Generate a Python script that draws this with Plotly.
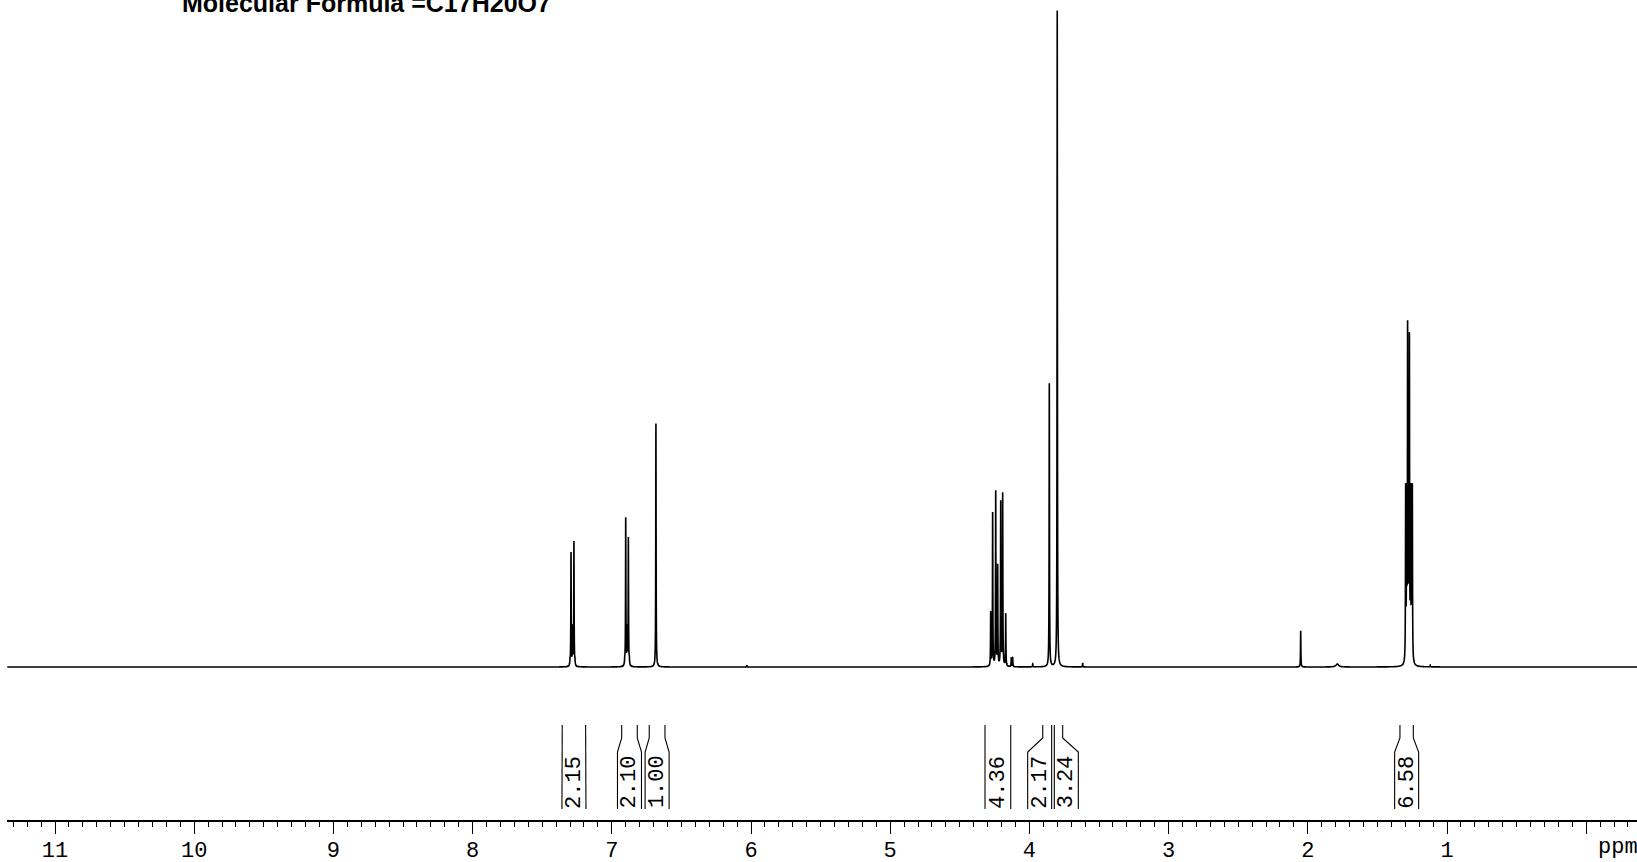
import numpy as np
import plotly.graph_objects as go

# ---------------- data ----------------
title_text = "Molecular Formula =C17H20O7"

# peak positions (ppm) and observed line heights (% of tallest line)
peak_ppm = [7.300, 7.293, 7.282, 7.272, 7.265,
            6.907, 6.900, 6.890, 6.881, 6.874,
            6.683, 6.030,
            4.278, 4.264, 4.242, 4.228, 4.206, 4.192, 4.170, 4.130, 4.120,
            3.976, 3.857, 3.800, 3.617,
            2.051, 1.788,
            1.297, 1.290, 1.283, 1.276, 1.270, 1.262, 1.255, 1.249,
            1.120]
peak_height = [1.5, 17.5, 6.5, 19.2, 1.5,
               1.8, 22.8, 6.5, 19.8, 1.8,
               37.1, 0.2,
               8.5, 23.6, 26.9, 15.7, 25.4, 26.6, 8.2, 1.5, 1.5,
               0.5, 43.2, 100.0, 0.6,
               5.5, 0.45,
               28.0, 28.0, 52.8, 28.0, 51.0, 28.0, 28.0, 28.0,
               0.3]
peak_hwhm = [0.0015] * 26 + [0.012] + [0.0015] * 9

# integral regions (ppm) and values
integral_from = [7.356, 6.929, 6.731, 4.319, 3.904, 3.821, 1.338]
integral_to = [7.188, 6.817, 6.618, 4.134, 3.840, 3.761, 1.242]
integral_values = ["2.15", "2.10", "1.00", "4.36", "2.17", "3.24", "6.58"]

tick_values = list(range(0, 12))
tick_labels = [""] + [str(i) for i in range(1, 12)]
axis_unit = "ppm"

# ---------------- layout constants (page pixels) ----------------
W, H = 1637, 862
PX0, PX_PER_PPM = 1586.2, 139.2   # page x of 0 ppm, pixels per ppm
AXIS_Y = 820                      # page y of the x-axis line
ML, MR, MT = 7, 0, 0
MB = H - AXIS_Y
x_range = [(PX0 - ML) / PX_PER_PPM, (PX0 - W) / PX_PER_PPM]
plot_h = H - MT - MB
baseline_y = 667           # page y of the baseline
top_y = 10.4               # page y of the tallest line
unit_px = (baseline_y - top_y) / 100.0
y_range = [-(AXIS_Y - baseline_y) / unit_px, (baseline_y - MT) / unit_px]
ppm_per_px = 1.0 / PX_PER_PPM


def py(page_y):
    return (AXIS_Y - page_y) / plot_h


def px(page_x):
    return (page_x - ML) / (W - ML - MR)


# ---------------- spectrum curve ----------------
pp = np.array(peak_ppm)
ww = np.array(peak_hwhm)
A = 1.0 / (1.0 + ((pp[:, None] - pp[None, :]) / ww[None, :]) ** 2)
amp = np.linalg.solve(A, np.array(peak_height))   # amplitudes so that sums hit observed heights

grid = [np.arange(x_range[1], x_range[0], 0.002), pp]
for p, w in zip(peak_ppm, peak_hwhm):
    span = max(0.03, 20 * w)
    grid.append(np.arange(p - span, p + span, w / 8))
x = np.unique(np.concatenate(grid))
x = x[(x >= x_range[1]) & (x <= x_range[0])]
y = np.zeros_like(x)
for p, h, w in zip(peak_ppm, amp, peak_hwhm):
    y += h / (1.0 + ((x - p) / w) ** 2)

fig = go.Figure()
fig.add_trace(go.Scatter(x=x, y=y, mode="lines",
                         line=dict(color="black", width=1.6, simplify=False),
                         hoverinfo="skip", showlegend=False))

# ---------------- integrals ----------------
min_w = 24 * ppm_per_px
boxes = []
for a, b in zip(integral_from, integral_to):
    if a - b < min_w:
        c = (a + b) / 2
        boxes.append([c + min_w / 2, c - min_w / 2])
    else:
        boxes.append([a, b])
for i in range(len(boxes) - 1):
    if boxes[i][1] < boxes[i + 1][0]:  # overlap (ppm decreasing to the right)
        boxes[i] = [integral_to[i] + min_w, integral_to[i]]
        boxes[i + 1] = [integral_from[i + 1], integral_from[i + 1] - min_w]

y_top, y_neck, y_sl, y_bot = py(725), py(738), py(752), py(809)
for (a, b), (ba, bb), lab in zip(zip(integral_from, integral_to), boxes, integral_values):
    for tx, bx in ((a, ba), (b, bb)):
        fig.add_trace(go.Scatter(x=[tx, tx, bx, bx], y=[y_top, y_neck, y_sl, y_bot],
                                 mode="lines", yaxis="y2",
                                 line=dict(color="black", width=1.1),
                                 hoverinfo="skip", showlegend=False))
    fig.add_annotation(x=(ba + bb) / 2, y=py(782), xref="x", yref="paper",
                       text=lab, textangle=-90, showarrow=False,
                       font=dict(family="Courier New, Liberation Mono, monospace",
                                 size=22, color="black"),
                       xanchor="center", yanchor="middle")

# ---------------- title and unit ----------------
fig.add_annotation(x=px(180), y=py(19), xref="paper", yref="paper",
                   text="<b>" + title_text + "</b>", showarrow=False,
                   font=dict(family="Arial, Liberation Sans, sans-serif", size=25, color="black"),
                   xanchor="left", yanchor="bottom")
fig.add_annotation(x=(PX0 - 1596) / PX_PER_PPM, y=py(847), xref="x", yref="paper", text=axis_unit,
                   showarrow=False,
                   font=dict(family="Courier New, Liberation Mono, monospace", size=22, color="black"),
                   xanchor="left", yanchor="middle")

fig.update_layout(
    template="none",
    width=W, height=H,
    margin=dict(l=ML, r=MR, t=MT, b=MB, pad=0, autoexpand=False),
    paper_bgcolor="white", plot_bgcolor="white",
    showlegend=False,
    xaxis=dict(range=x_range, showgrid=False, zeroline=False, automargin=False,
               showline=True, linecolor="black", linewidth=1.5,
               ticks="outside", ticklen=12, tickwidth=1.3, tickcolor="black",
               tickmode="array", tickvals=tick_values, ticktext=tick_labels,
               ticklabelstandoff=-3,
               tickfont=dict(family="Courier New, Liberation Mono, monospace", size=22, color="black"),
               minor=dict(tickmode="linear", tick0=0, dtick=0.1, ticks="outside",
                          ticklen=5, tickwidth=1.1, tickcolor="black", showgrid=False)),
    yaxis=dict(range=y_range, visible=False, showgrid=False, zeroline=False, automargin=False),
    yaxis2=dict(range=[0, 1], visible=False, overlaying="y", showgrid=False, zeroline=False,
                automargin=False),
)

fig.write_html("out.html", config={"displayModeBar": False},
               post_script="document.body.style.margin='0';"
                           "document.body.style.overflow='hidden';")
